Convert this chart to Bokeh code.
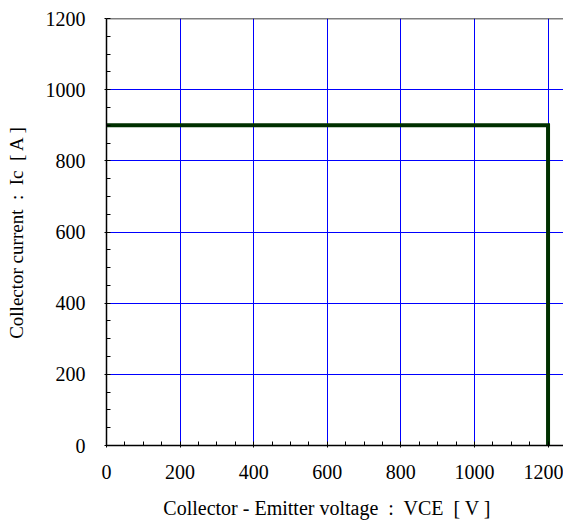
from bokeh.plotting import figure
from bokeh.models import SingleIntervalTicker, Range1d, Span
from bokeh.embed import file_html
from bokeh.resources import INLINE

# Reverse-bias safe operating area boundary
soa_voltage = [0, 1200, 1200]      # V
soa_current = [900, 900, 0]        # A

x_max = 1242
y_max = 1200
tick_step = 200

FONT = "Times New Roman"

p = figure(frame_width=457, frame_height=427, output_backend="svg",
           toolbar_location=None, x_range=Range1d(0, x_max), y_range=Range1d(0, y_max),
           min_border_left=106, min_border_right=0, min_border_top=18, min_border_bottom=40)
p.outline_line_color = None
p.background_fill_color = "white"
p.border_fill_color = "white"

for ax in (p.xaxis[0], p.yaxis[0]):
    ax.ticker = SingleIntervalTicker(interval=tick_step, num_minor_ticks=4)
    ax.axis_line_color = "black"
    ax.axis_line_width = 1.5
    ax.major_tick_in = 0
    ax.major_tick_out = 2
    ax.major_tick_line_color = "black"
    ax.minor_tick_in = 4
    ax.minor_tick_out = 0
    ax.minor_tick_line_color = "black"
    ax.major_label_text_font = FONT
    ax.major_label_text_font_size = "20px"
    ax.major_label_text_color = "black"
    ax.axis_label_text_font = FONT
    ax.axis_label_text_font_style = "normal"
    ax.axis_label_text_color = "black"

p.xaxis.axis_label_text_font_size = "20px"
p.yaxis.axis_label_text_font_size = "19px"
p.xaxis.axis_label = "Collector - Emitter voltage\u00a0 :\u00a0 VCE\u00a0 [ V ]\u00a0\u00a0\u00a0"
p.yaxis.axis_label = "Collector current\u00a0 :\u00a0 Ic\u00a0 [ A ]"
p.xaxis.major_label_standoff = 17
p.xaxis.axis_label_standoff = 15
p.yaxis.major_label_standoff = 19
p.yaxis.axis_label_standoff = 16

for g in (p.xgrid[0], p.ygrid[0]):
    g.ticker = SingleIntervalTicker(interval=tick_step)
    g.grid_line_color = "#0000ff"
    g.grid_line_width = 1
    g.grid_line_alpha = 1.0

p.add_layout(Span(location=y_max, dimension="width", line_color="black", line_width=1.5))

p.line(soa_voltage, soa_current, line_color="#003000", line_width=4, line_join="miter")

open("out.html", "w").write(file_html(p, INLINE))
